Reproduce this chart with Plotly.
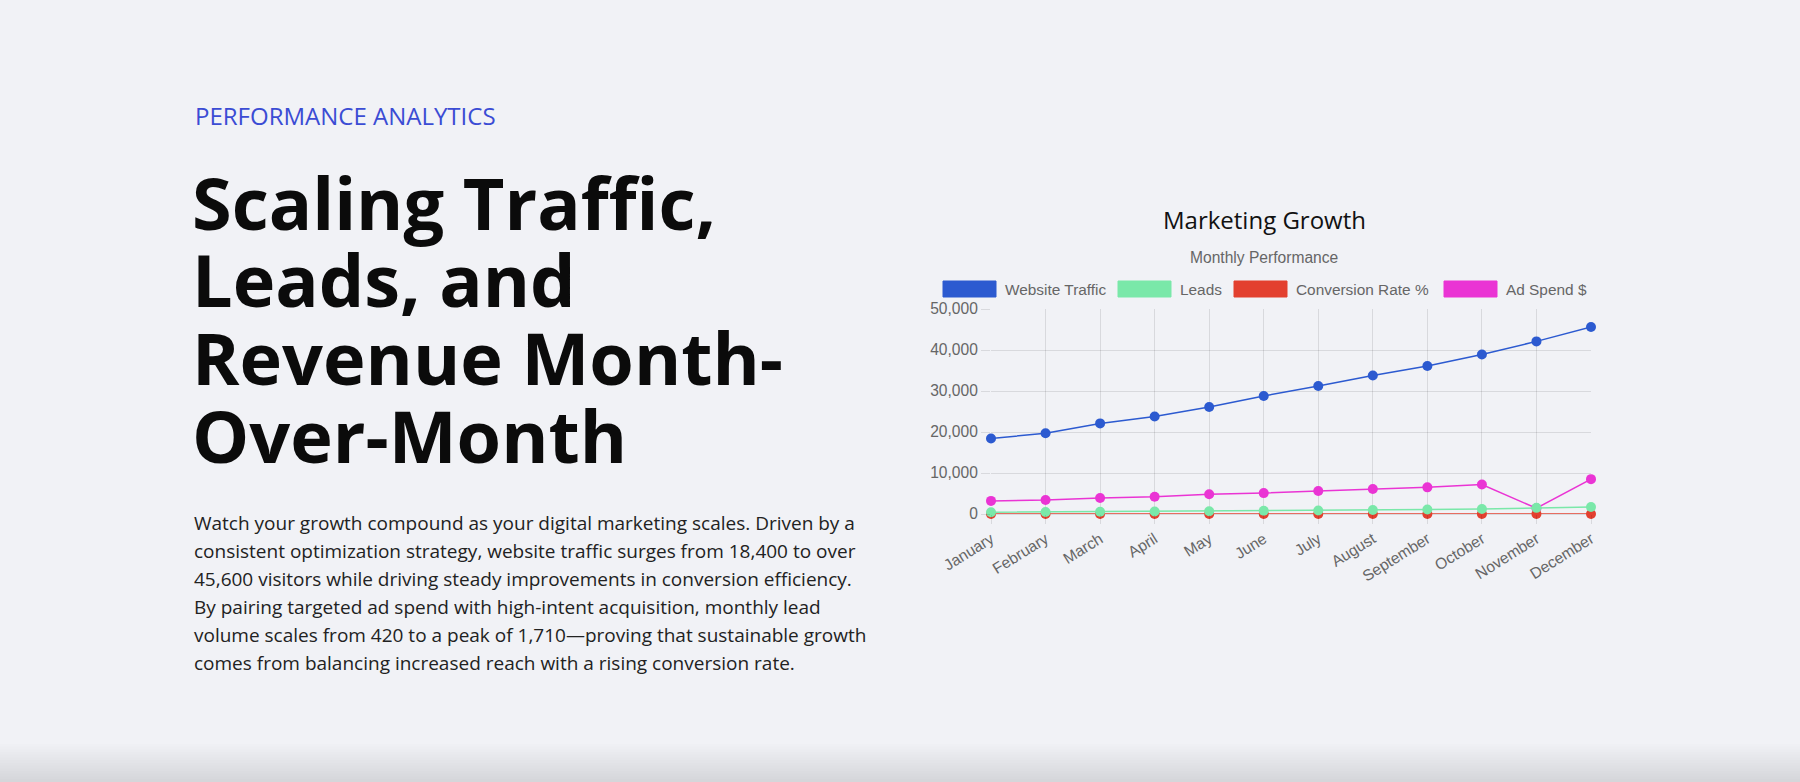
import plotly.graph_objects as go

# ---------------- data ----------------
months = ["January", "February", "March", "April", "May", "June", "July",
          "August", "September", "October", "November", "December"]
website_traffic = [18400, 19700, 22100, 23800, 26100, 28800, 31200, 33800, 36100, 38900, 42100, 45600]
leads = [420, 480, 540, 610, 690, 780, 870, 970, 1080, 1210, 1500, 1710]
conversion_rate = [2.3, 2.4, 2.6, 2.7, 2.9, 3.0, 3.2, 3.3, 3.5, 3.6, 3.8, 4.0]
ad_spend = [3200, 3400, 3900, 4200, 4800, 5100, 5600, 6100, 6500, 7200, 1400, 8500]

series_names = ["Website Traffic", "Leads", "Conversion Rate %", "Ad Spend $"]
series_values = [website_traffic, leads, conversion_rate, ad_spend]
series_colors = ["#2c5ad0", "#7ae8a9", "#e3402f", "#ea34d4"]

y_ticks = [0, 10000, 20000, 30000, 40000, 50000]

# ---------------- layout helpers ----------------
W, H = 1800, 782
BG = "#f1f2f6"
GRID = "rgba(0,0,0,0.1)"
LABEL = "#666666"
CHART_FONT = "Liberation Sans, Arial, sans-serif"
PAGE_FONT = "Open Sans, sans-serif"


def px(x):
    return x / W


def py(y):
    return 1 - y / H


fig = go.Figure()

# Chart.js draws the first dataset on top -> add in reverse order
for name, vals, col in reversed(list(zip(series_names, series_values, series_colors))):
    fig.add_trace(go.Scatter(
        x=months, y=vals, name=name, mode="lines+markers",
        line=dict(color=col, width=1.5),
        marker=dict(color=col, size=10),
        cliponaxis=False, showlegend=False,
    ))

annotations = []
shapes = []

# ---- left column text ----
annotations.append(dict(
    text="PERFORMANCE ANALYTICS", x=px(193), y=py(115), xref="paper", yref="paper",
    xanchor="left", yanchor="middle", showarrow=False,
    font=dict(family=PAGE_FONT, size=24, color="#3b4cd4")))

headline = ["Scaling Traffic,", "Leads, and", "Revenue Month-", "Over-Month"]
head_y = [202, 279, 357, 435]
for line, yy in zip(headline, head_y):
    annotations.append(dict(
        text=line, x=px(190), y=py(yy), xref="paper", yref="paper",
        xanchor="left", yanchor="middle", showarrow=False,
        font=dict(family=PAGE_FONT, size=72, color="#0b0b0b", weight="bold")))

para = [
    "Watch your growth compound as your digital marketing scales. Driven by a",
    "consistent optimization strategy, website traffic surges from 18,400 to over",
    "45,600 visitors while driving steady improvements in conversion efficiency.",
    "By pairing targeted ad spend with high-intent acquisition, monthly lead",
    "volume scales from 420 to a peak of 1,710\u2014proving that sustainable growth",
    "comes from balancing increased reach with a rising conversion rate.",
]
for i, line in enumerate(para):
    annotations.append(dict(
        text=line, x=px(192), y=py(523 + i * 28), xref="paper", yref="paper",
        xanchor="left", yanchor="middle", showarrow=False,
        font=dict(family=PAGE_FONT, size=19, color="#222222")))

# ---- chart titles ----
annotations.append(dict(
    text="Marketing Growth", x=px(1264), y=py(220), xref="paper", yref="paper",
    xanchor="center", yanchor="middle", showarrow=False,
    font=dict(family=PAGE_FONT, size=24, color="#111111")))
annotations.append(dict(
    text="Monthly Performance", x=px(1264), y=py(257), xref="paper", yref="paper",
    xanchor="center", yanchor="middle", showarrow=False,
    font=dict(family=CHART_FONT, size=15.6, color=LABEL)))

# ---- custom legend ----
legend_box_x = [943, 1118, 1234, 1444]
for name, col, bx in zip(series_names, series_colors, legend_box_x):
    shapes.append(dict(type="rect", xref="paper", yref="paper",
                       x0=px(bx), x1=px(bx + 53), y0=py(297), y1=py(281),
                       fillcolor=col, line=dict(color=col, width=1)))
    annotations.append(dict(
        text=name, x=px(bx + 60), y=py(289), xref="paper", yref="paper",
        xanchor="left", yanchor="middle", showarrow=False,
        font=dict(family=CHART_FONT, size=15.4, color=LABEL)))

# ---- bottom shadow ----
n = 14
for i in range(n):
    y0 = 744 + i * 38 / n
    shapes.append(dict(type="rect", xref="paper", yref="paper", layer="below",
                       x0=0, x1=1, y0=py(y0), y1=py(782),
                       fillcolor="rgba(110,110,118,0.014)", line=dict(width=0)))

fig.update_layout(
    template="none",
    width=W, height=H,
    margin=dict(l=0, r=0, t=0, b=0, pad=0, autoexpand=False),
    paper_bgcolor=BG, plot_bgcolor=BG,
    annotations=annotations, shapes=shapes,
    showlegend=False, hovermode=False,
    xaxis=dict(
        domain=[px(991), px(1591)],
        automargin=False,
        type="category", categoryorder="array", categoryarray=months,
        range=[0, 11],
        showgrid=True, gridcolor=GRID, gridwidth=1,
        zeroline=False, showline=False,
        ticks="outside", ticklen=9, tickcolor=GRID, tickwidth=1,
        tickangle=-32,
        tickfont=dict(family=CHART_FONT, size=15.6, color=LABEL),
    ),
    yaxis=dict(
        domain=[py(514), py(309)],
        automargin=False,
        range=[0, 50000],
        tickvals=y_ticks, tickformat=",",
        showgrid=True, gridcolor=GRID, gridwidth=1,
        zeroline=True, zerolinecolor=GRID, zerolinewidth=1,
        showline=False,
        ticks="outside", ticklen=9, tickcolor=GRID, tickwidth=1,
        tickfont=dict(family=CHART_FONT, size=15.6, color=LABEL),
    ),
)

fig.write_html(
    "out.html",
    config={"displayModeBar": False},
    post_script="document.body.style.margin='0';document.body.style.overflow='hidden';"
                "document.body.style.background='" + BG + "';",
)
